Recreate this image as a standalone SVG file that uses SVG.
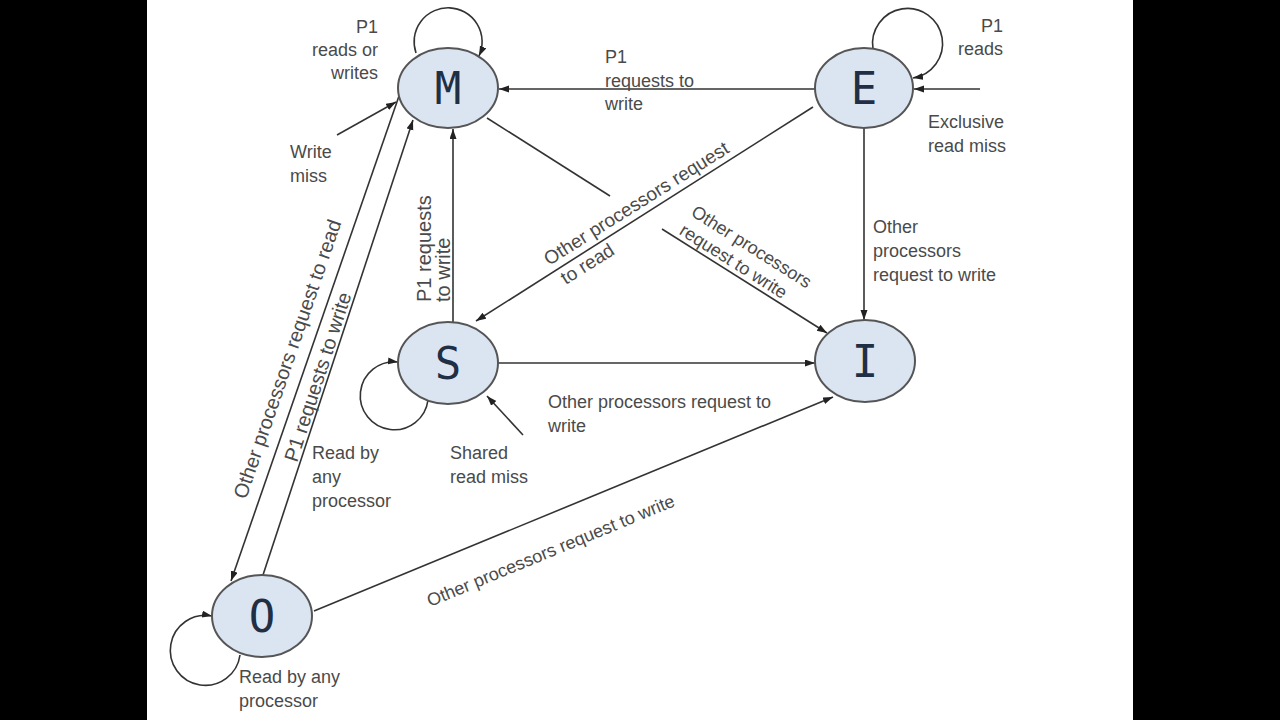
<svg xmlns="http://www.w3.org/2000/svg" width="1280" height="720" viewBox="0 0 1280 720">
<style>
.node{fill:#dbe5f1;stroke:#555;stroke-width:2}
.lt{font-family:"DejaVu Sans Mono",monospace;font-size:44px;fill:#1f2f45;text-anchor:middle}
.e{stroke:#333;stroke-width:1.6;fill:none}
.a{marker-end:url(#arr)}
.lb{font-family:"Liberation Sans",Arial,sans-serif;font-size:18px;fill:#4a4a4a}
.r{text-anchor:end}
</style>
<defs>
<marker id="arr" markerUnits="userSpaceOnUse" markerWidth="11" markerHeight="8" refX="10" refY="3.5" orient="auto">
<path d="M0,0 L10,3.5 L0,7 z" fill="#222"/>
</marker>
</defs>
<rect x="0" y="0" width="1280" height="720" fill="#000"/>
<rect x="147" y="0" width="986" height="720" fill="#fff"/>

<g id="connectors">
<line class="e a" x1="815" y1="89" x2="499" y2="89"/>
<line class="e a" x1="980" y1="89" x2="914" y2="89"/>
<line class="e a" x1="337" y1="135" x2="396" y2="102"/>
<line class="e a" x1="453" y1="322" x2="453" y2="129"/>
<line class="e" x1="487" y1="118" x2="610" y2="196"/>
<line class="e a" x1="662" y1="229" x2="827" y2="333"/>
<line class="e a" x1="813" y1="107" x2="476" y2="321"/>
<line class="e a" x1="864" y1="128" x2="864" y2="320"/>
<line class="e a" x1="498" y1="363" x2="815" y2="363"/>
<line class="e a" x1="523" y1="435" x2="487" y2="396"/>
<line class="e a" x1="399" y1="96" x2="231" y2="581"/>
<line class="e a" x1="263" y1="575" x2="413" y2="120"/>
<line class="e a" x1="314" y1="611" x2="833" y2="397"/>
<path class="e a" d="M416 53 A34 34 0 1 1 479 56"/>
<path class="e a" d="M873 49 A35 35 0 1 1 913 78"/>
<path class="e a" d="M428 400 A34 34 0 1 1 398 362"/>
<path class="e a" d="M240 655 A35 35 0 1 1 212 616"/>
</g>

<g id="labels">
<text class="lb r" x="378" y="33">P1</text>
<text class="lb r" x="378" y="56">reads or</text>
<text class="lb r" x="378" y="79">writes</text>
<text class="lb" x="290" y="158">Write</text>
<text class="lb" x="290" y="182">miss</text>
<text class="lb" x="605" y="63">P1</text>
<text class="lb" x="605" y="87">requests to</text>
<text class="lb" x="605" y="110">write</text>
<text class="lb r" x="1003" y="32">P1</text>
<text class="lb r" x="1003" y="55">reads</text>
<text class="lb" x="928" y="128">Exclusive</text>
<text class="lb" x="928" y="152">read miss</text>
<text class="lb" style="font-size:20px" transform="translate(431,302) rotate(-90)"><tspan x="0" y="0">P1 requests</tspan><tspan x="0" y="19">to write</tspan></text>
<text class="lb" style="font-size:19px" transform="translate(549,266) rotate(-32.2)"><tspan x="0" y="0">Other processors request</tspan><tspan x="4" y="25">to read</tspan></text>
<text class="lb" transform="translate(690,215) rotate(32.3)"><tspan x="0" y="0">Other processors</tspan><tspan x="0" y="22">request to write</tspan></text>
<text class="lb" x="873" y="233">Other</text>
<text class="lb" x="873" y="257">processors</text>
<text class="lb" x="873" y="281">request to write</text>
<text class="lb" x="548" y="408">Other processors request to</text>
<text class="lb" x="548" y="432">write</text>
<text class="lb" x="450" y="459">Shared</text>
<text class="lb" x="450" y="483">read miss</text>
<text class="lb" x="312" y="459">Read by</text>
<text class="lb" x="312" y="483">any</text>
<text class="lb" x="312" y="507">processor</text>
<text class="lb" x="239" y="683">Read by any</text>
<text class="lb" x="239" y="707">processor</text>
<text class="lb" transform="translate(430,607) rotate(-22.4)">Other processors request to write</text>
<text class="lb" style="font-size:20px" transform="translate(246,500) rotate(-71)">Other processors request to read</text>
<text class="lb" style="font-size:20px" transform="translate(297,463) rotate(-72)">P1 requests to write</text>
</g>

<g id="node-M"><ellipse class="node" cx="448" cy="88" rx="50" ry="40"/><text class="lt" x="448" y="104">M</text></g>
<g id="node-E"><ellipse class="node" cx="864" cy="88" rx="49" ry="40"/><text class="lt" x="864" y="104">E</text></g>
<g id="node-S"><ellipse class="node" cx="448" cy="363" rx="50" ry="41"/><text class="lt" x="448" y="379">S</text></g>
<g id="node-I"><ellipse class="node" cx="865" cy="361" rx="50" ry="41"/><text class="lt" x="865" y="377">I</text></g>
<g id="node-O"><ellipse class="node" cx="262" cy="616" rx="50" ry="41"/><text class="lt" x="262" y="632">O</text></g>
</svg>
